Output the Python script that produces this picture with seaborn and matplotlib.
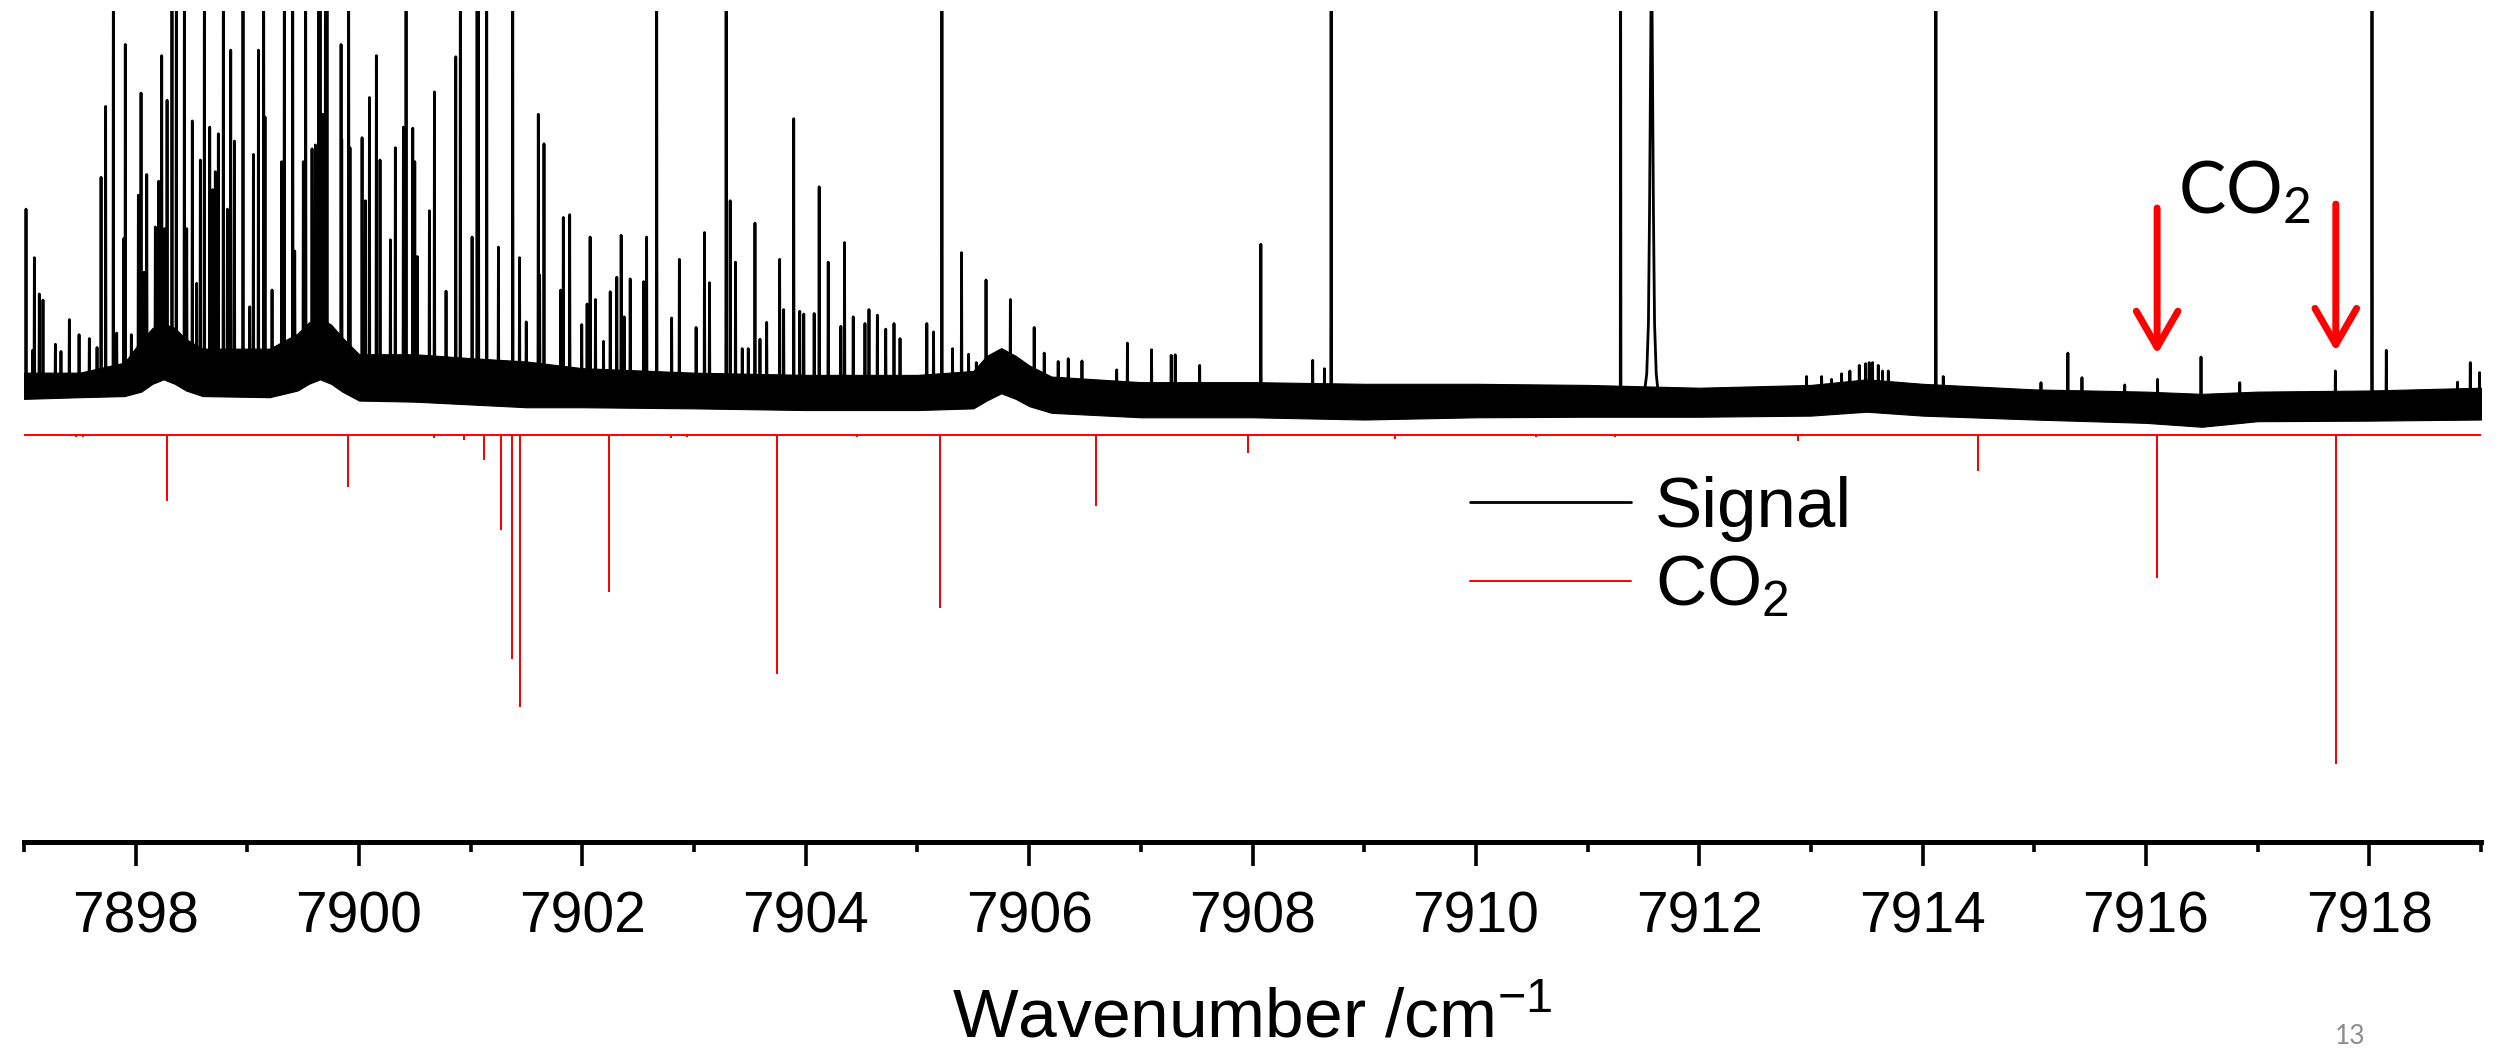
import numpy as np
import pandas as pd
import matplotlib
matplotlib.use("Agg")
import matplotlib.pyplot as plt
import seaborn as sns
from matplotlib.ticker import FixedLocator, MultipleLocator

# ---------------- data ----------------
# sharp signal lines: position (cm-1) and top height (arb. units); 9 = runs off the top
peak_wn = [7897.018, 7897.078, 7897.093, 7897.137, 7897.170, 7897.281, 7897.331, 7897.406,
           7897.493, 7897.585, 7897.654, 7897.690, 7897.731, 7897.800, 7897.830, 7897.893,
           7897.907, 7897.961, 7898.024, 7898.048, 7898.075, 7898.099, 7898.176, 7898.206,
           7898.233, 7898.260, 7898.281, 7898.325, 7898.364, 7898.436, 7898.457, 7898.507,
           7898.546, 7898.579, 7898.615, 7898.663, 7898.690, 7898.713, 7898.740, 7898.785,
           7898.821, 7898.851, 7898.884, 7898.961, 7899.021, 7899.054, 7899.099, 7899.146,
           7899.158, 7899.221, 7899.307, 7899.331, 7899.406, 7899.424, 7899.501, 7899.522,
           7899.579, 7899.609, 7899.639, 7899.651, 7899.675, 7899.699, 7899.713, 7899.839,
           7899.845, 7899.907, 7899.919, 7900.027, 7900.057, 7900.093, 7900.155, 7900.188,
           7900.281, 7900.325, 7900.397, 7900.421, 7900.481, 7900.499, 7900.522, 7900.630,
           7900.675, 7900.779, 7900.866, 7900.907, 7901.012, 7901.057, 7901.069, 7901.143,
           7901.248, 7901.376, 7901.437, 7901.497, 7901.605, 7901.617, 7901.656, 7901.805,
           7901.829, 7901.886, 7901.994, 7902.042, 7902.069, 7902.117, 7902.189, 7902.249,
           7902.308, 7902.347, 7902.374, 7902.428, 7902.548, 7902.575, 7902.665, 7902.799,
           7902.868, 7903.018, 7903.093, 7903.138, 7903.287, 7903.323, 7903.371, 7903.431,
           7903.485, 7903.545, 7903.590, 7903.650, 7903.766, 7903.802, 7903.892, 7903.946,
           7903.982, 7904.075, 7904.120, 7904.201, 7904.314, 7904.347, 7904.425, 7904.530,
           7904.566, 7904.641, 7904.716, 7904.790, 7904.844, 7905.084, 7905.144, 7905.219,
           7905.314, 7905.395, 7905.458, 7905.527, 7905.614, 7905.668, 7905.832, 7905.886,
           7906.045, 7906.135, 7906.260, 7906.350, 7906.473, 7906.784, 7906.880, 7907.096,
           7907.272, 7907.308, 7907.527, 7908.075, 7908.539, 7908.644, 7908.704, 7911.296,
           7912.961, 7913.096, 7913.185, 7913.275, 7913.349, 7913.433, 7913.490, 7913.522,
           7913.552, 7913.603, 7913.642, 7913.693, 7914.119, 7914.185, 7915.060, 7915.301,
           7915.427, 7915.810, 7916.104, 7916.493, 7916.840, 7917.696, 7918.024, 7918.152,
           7918.790, 7918.904, 7918.988]
peak_height = [4.05, 1.52, 3.18, 2.53, 2.42, 1.63, 1.50, 2.07,
               1.80, 1.73, 1.57, 4.62, 5.89, 9.0, 1.83, 3.52,
               7.00, 1.80, 4.30, 6.13, 2.92, 4.67, 3.73, 4.55,
               6.80, 3.70, 6.00, 9.0, 9.0, 9.0, 3.70, 5.63,
               2.72, 4.93, 9.0, 5.52, 4.40, 4.72, 5.40, 9.0,
               4.05, 6.90, 5.27, 9.0, 2.30, 5.03, 6.90, 9.0,
               5.70, 2.60, 4.90, 9.0, 9.0, 3.30, 4.90, 9.0,
               5.13, 5.20, 9.0, 9.0, 5.75, 9.0, 9.0, 7.00,
               5.30, 9.0, 5.15, 5.33, 4.20, 6.05, 6.80, 4.93,
               3.50, 5.15, 5.52, 9.0, 5.50, 4.90, 3.20, 4.02,
               6.15, 2.58, 6.78, 9.0, 3.55, 9.0, 9.0, 9.0,
               3.37, 9.0, 3.18, 2.03, 5.75, 2.87, 5.22, 2.60,
               3.90, 3.95, 1.98, 2.35, 3.55, 2.43, 1.68, 2.57,
               2.83, 3.58, 2.12, 2.80, 2.75, 3.55, 9.0, 2.10,
               3.15, 1.93, 3.63, 2.73, 9.0, 4.20, 3.10, 1.55,
               1.55, 3.80, 1.72, 2.02, 3.15, 2.25, 5.67, 2.22,
               2.17, 2.18, 4.45, 3.10, 1.95, 3.45, 2.12, 2.00,
               2.25, 2.15, 1.90, 2.00, 1.73, 2.00, 1.85, 9.0,
               1.55, 3.27, 1.45, 1.30, 2.78, 1.25, 2.43, 1.35,
               1.93, 1.47, 1.32, 1.37, 1.33, 1.17, 1.65, 1.53,
               1.43, 1.44, 1.25, 3.42, 1.34, 1.19, 9.0, 9.0,
               1.05, 1.05, 1.00, 1.10, 1.15, 1.25, 1.28, 1.30,
               1.30, 1.25, 1.15, 1.15, 9.0, 1.05, 0.94, 1.47,
               1.03, 0.90, 1.00, 1.40, 0.94, 1.15, 9.0, 1.52,
               0.95, 1.30, 1.12]

# the broad strong line near 7911.57 (profile points)
broad_wn = [7911.50, 7911.530, 7911.545, 7911.555, 7911.573, 7911.590, 7911.600, 7911.615, 7911.64]
broad_height = [0.62, 1.10, 2.00, 4.00, 9.0, 4.00, 2.00, 1.10, 0.62]

# noisy baseline band of the signal (lower / upper edge)
band_wn = [7897.0, 7897.5, 7897.9, 7898.05, 7898.15, 7898.25, 7898.35, 7898.45, 7898.6,
           7899.2, 7899.45, 7899.55, 7899.65, 7899.75, 7899.85, 7900.0, 7900.5, 7901.0,
           7901.5, 7902.0, 7903.0, 7904.0, 7905.0, 7905.5, 7905.62, 7905.75, 7905.88,
           7906.0, 7906.2, 7907.0, 7908.0, 7909.0, 7910.0, 7911.0, 7912.0, 7913.0,
           7913.5, 7914.0, 7915.0, 7916.0, 7916.5, 7917.0, 7918.0, 7919.0]
band_low = [0.65, 0.68, 0.70, 0.78, 0.92, 1.00, 0.92, 0.80, 0.70,
            0.68, 0.80, 0.92, 1.00, 0.92, 0.78, 0.62, 0.60, 0.55,
            0.50, 0.50, 0.48, 0.45, 0.45, 0.48, 0.62, 0.75, 0.65,
            0.52, 0.40, 0.32, 0.32, 0.28, 0.32, 0.33, 0.33, 0.35,
            0.42, 0.35, 0.28, 0.22, 0.15, 0.25, 0.26, 0.28]
band_high = [1.12, 1.12, 1.30, 1.70, 1.92, 2.00, 1.92, 1.72, 1.55,
             1.55, 1.82, 2.02, 2.10, 1.98, 1.75, 1.45, 1.45, 1.38,
             1.32, 1.20, 1.12, 1.08, 1.08, 1.15, 1.42, 1.56, 1.42,
             1.25, 1.05, 0.95, 0.95, 0.92, 0.92, 0.90, 0.85, 0.90,
             1.00, 0.92, 0.82, 0.78, 0.74, 0.78, 0.80, 0.85]

# CO2 reference stick spectrum (negative)
co2_wn = [7897.47, 7897.53, 7898.28, 7899.90, 7900.67, 7900.94, 7901.12, 7901.27, 7901.37,
          7901.44, 7902.24, 7902.79, 7902.94, 7903.74, 7904.46, 7905.20, 7906.60, 7907.96,
          7909.28, 7910.54, 7911.25, 7912.88, 7914.50, 7916.10, 7917.70]
co2_depth = [-0.02, -0.02, -1.17, -0.92, -0.03, -0.07, -0.42, -1.68, -4.00,
             -4.85, -2.80, -0.03, -0.02, -4.27, -0.02, -3.08, -1.26, -0.30,
             -0.05, -0.02, -0.02, -0.08, -0.62, -2.55, -5.88]

major_ticks = [7898, 7900, 7902, 7904, 7906, 7908, 7910, 7912, 7914, 7916, 7918]
arrow_wn = [7916.10, 7917.70]
arrow_top = [4.07, 4.14]
arrow_tip = [1.45, 1.50]

# ---------------- build line paths ----------------
band_mid = (np.array(band_low) + np.array(band_high)) / 2.0
events = sorted([(w, h, "p") for w, h in zip(peak_wn, peak_height)] +
                [(w, h, "b") for w, h in zip(broad_wn, broad_height)])
sig_x, sig_y = [7897.0], [float(np.interp(7897.0, band_wn, band_mid))]
d = 0.003
for w, h, kind in events:
    foot = float(np.interp(w, band_wn, band_mid))
    if kind == "p":
        sig_x += [w - d, w, w + d]
        sig_y += [foot, h, foot]
    else:
        sig_x.append(w)
        sig_y.append(h)
sig_x.append(7919.0)
sig_y.append(float(np.interp(7919.0, band_wn, band_mid)))
signal = pd.DataFrame({"wn": sig_x, "I": sig_y})

cx, cy = [7897.0], [0.0]
for w, dd in zip(co2_wn, co2_depth):
    cx += [w, w, w]
    cy += [0.0, dd, 0.0]
cx.append(7919.0)
cy.append(0.0)
co2 = pd.DataFrame({"wn": cx, "I": cy})

# ---------------- figure ----------------
sns.set_style("white")
plt.rcParams["font.family"] = ["Liberation Sans", "DejaVu Sans"]
plt.rcParams["text.color"] = "black"
plt.rcParams["axes.labelcolor"] = "black"
plt.rcParams["xtick.color"] = "black"
plt.rcParams["xtick.labelcolor"] = "black"

W, H = 2503, 1055
fig = plt.figure(figsize=(W / 100, H / 100), dpi=100)
ax = fig.add_axes([24 / W, (H - 842) / H, (2481 - 24) / W, (842 - 11) / H])

ax.fill_between(band_wn, band_low, band_high, color="black", linewidth=0.8)
sns.lineplot(data=signal, x="wn", y="I", sort=False, estimator=None, color="black",
             linewidth=2.0, ax=ax, label="Signal")
sns.lineplot(data=co2, x="wn", y="I", sort=False, estimator=None, color="#ff0000",
             linewidth=1.4, ax=ax, label=r"CO$\mathregular{_2}$")

ax.set_xlim(7897, 7919)
ax.set_ylim(-7.29, 7.60)

for s in ["left", "right", "top"]:
    ax.spines[s].set_visible(False)
ax.spines["bottom"].set_linewidth(3.6)
ax.spines["bottom"].set_color("black")
ax.set_yticks([])
ax.set_ylabel("")
ax.xaxis.set_major_locator(FixedLocator(major_ticks))
ax.xaxis.set_minor_locator(MultipleLocator(1))
ax.set_xticklabels([str(t) for t in major_ticks])
ax.tick_params(axis="x", which="major", direction="out", length=17, width=2.6,
               labelsize=41, pad=18, color="black", labelcolor="black", bottom=True)
ax.tick_params(axis="x", which="minor", direction="out", length=7, width=2.6,
               color="black", bottom=True)
ax.set_xlabel(r"Wavenumber /cm$\mathregular{^{-1}}$", fontsize=50, labelpad=31,
              color="black")

# arrows + label
for w, t0, t1 in zip(arrow_wn, arrow_top, arrow_tip):
    ax.annotate("", xy=(w, t1), xytext=(w, t0),
                arrowprops=dict(arrowstyle="->,head_length=1.3,head_width=0.75",
                                mutation_scale=20, color="#ff0000", lw=5,
                                shrinkA=0, shrinkB=0))
ax.text(7916.29, 3.98, r"CO$\mathregular{_2}$", fontsize=51, family=["Lato", "DejaVu Sans"],
        ha="left", va="baseline", color="black")

leg = ax.legend(loc="upper left", bbox_to_anchor=(1470 / W, 1 - 476 / H),
                bbox_transform=fig.transFigure, frameon=False, fontsize=51,
                handlelength=2.27, handletextpad=0.34, labelspacing=0.18,
                borderpad=0, borderaxespad=0)
for t in leg.get_texts():
    t.set_color("black")

fig.text(2350 / W, 1 - 1036 / H, "13", fontsize=19, color="#8c8c8c",
         family=["Lato", "DejaVu Sans"], ha="center", va="center")

fig.savefig("out.png", dpi=100)
